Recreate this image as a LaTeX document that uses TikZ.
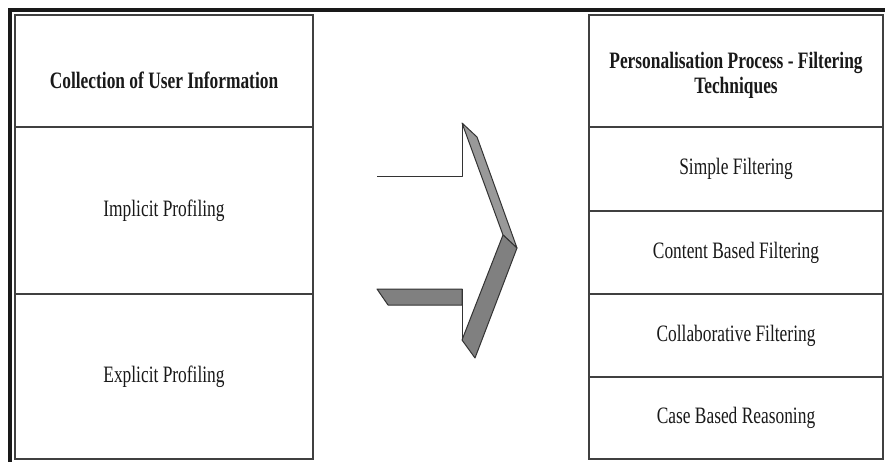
\documentclass[tikz,border=0pt]{standalone}
\usepackage{fontspec}
\setmainfont{Liberation Serif}
\newfontfamily\narrowserif[FakeStretch=0.74]{Liberation Serif}
\begin{document}
\begin{tikzpicture}[x=1pt,y=-1pt,
  cell/.style={draw=black!75,line width=1.3pt,rectangle,inner sep=0pt,
    font=\narrowserif\fontsize{23.5}{25}\selectfont,align=center,text=black!90},
  headtext/.style={inner sep=0pt,align=center,text=black!90,
    font=\narrowserif\bfseries\fontsize{23.5}{25}\selectfont},
  frame/.style={draw=black!90,line width=4pt},
  face/.style={draw=black!80,line width=1pt,line join=round},
  shade/.style={face,fill=black!50}]
\useasboundingbox (0,0) rectangle (885,462);
\fill[white] (0,0) rectangle (885,462);
% heavy page frame along the left and top
\draw[frame] (10,462) -- (10,10) -- (885,10);

% left column: sources of user information
\node[cell,minimum width=298pt,minimum height=112pt] (lhead) at (164,71) {};
\node[headtext] (lheadlabel) at (164,80) {Collection of User Information};
\node[cell,minimum width=298pt,minimum height=167pt] (impl) at (164,210.5) {Implicit Profiling};
\node[cell,minimum width=298pt,minimum height=165pt] (expl) at (164,376.5) {Explicit Profiling};

% right column: filtering techniques
\node[cell,minimum width=294pt,minimum height=112pt] (rhead) at (736,71) {};
\node[headtext] (rheadlabel) at (736,75) {Personalisation Process - Filtering\\Techniques};
\node[cell,minimum width=294pt,minimum height=84pt] (simple) at (736,169) {Simple Filtering};
\node[cell,minimum width=294pt,minimum height=83pt] (content) at (736,252.5) {Content Based Filtering};
\node[cell,minimum width=294pt,minimum height=83pt] (collab) at (736,335.5) {Collaborative Filtering};
\node[cell,minimum width=294pt,minimum height=82pt] (case) at (736,418) {Case Based Reasoning};

% extruded chevron arrow between the columns
\coordinate (shaftTop) at (377,177);
\coordinate (neckTop) at (462,177);
\coordinate (barbTop) at (462,123);
\coordinate (tip) at (503,235);
\coordinate (barbBot) at (462,340);
\coordinate (neckBot) at (462,289);
\coordinate (shaftBot) at (377,289);
\fill[white] (shaftTop) -- (neckTop) -- (barbTop) -- (tip) -- (barbBot) -- (neckBot) -- (shaftBot) -- cycle;
\draw[shade,fill=black!40] (barbTop) -- (477,137) -- (517,248) -- (tip) -- cycle;
\draw[shade] (tip) -- (517,248) -- (475,358) -- (barbBot) -- cycle;
\draw[shade] (shaftBot) -- (neckBot) -- (462,305) -- (388,305) -- cycle;
\draw[face] (shaftTop) -- (neckTop) -- (barbTop);
\draw[face] (neckBot) -- (barbBot);
\end{tikzpicture}
\end{document}
